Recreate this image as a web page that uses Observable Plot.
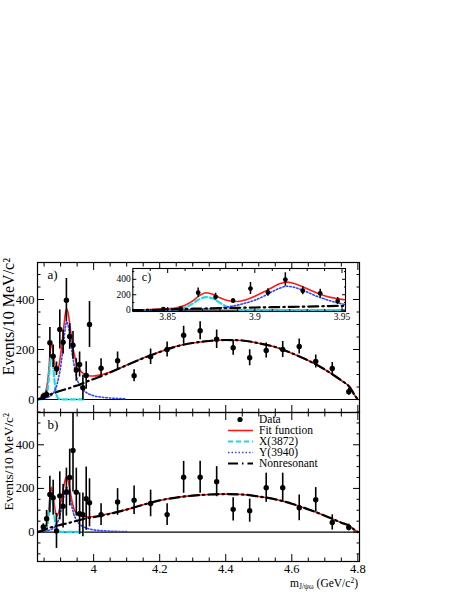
<!DOCTYPE html>
<html><head><meta charset="utf-8">
<script src="https://cdn.jsdelivr.net/npm/d3@7"></script>
<script src="https://cdn.jsdelivr.net/npm/@observablehq/plot@0.6"></script>
<style>
body{margin:0;background:#fff;}
#chart{position:relative;width:458px;height:592px;font-family:"Liberation Serif","Times New Roman",serif;color:#000;}
#chart > svg{position:absolute;overflow:visible;}
.leg{position:absolute;left:226px;top:413.5px;font-size:11.5px;}
.leg div{height:11px;line-height:11px;display:flex;align-items:center;white-space:nowrap;}
.leg svg{margin-right:5px;}
.xt{position:absolute;right:100px;top:575px;font-size:11.5px;line-height:12px;white-space:nowrap;}
.xt sub{font-size:7.5px;vertical-align:-2px;}
.xt sup{font-size:7.5px;vertical-align:4px;}
</style></head>
<body><div id="chart"></div>
<script>
// ---- data: bin centres (GeV/c^2) ----
const massBins = [3.8475,3.8575,3.8675,3.8775,3.8875,3.8975,3.9075,3.9175,3.9275,3.9375,3.9475,3.9575,3.9675,3.9775,3.9875,
  4.0225,4.0725,4.1225,4.1725,4.2225,4.2725,4.3225,4.3725,4.4225,4.4725,4.5225,4.5725,4.6225,4.6725,4.7225,4.7725];
// panel a) events and errors
const eventsA = [13,20,227,173,123,280,229,397,252,217,118,140,47,96,300,125,155,95,171,200,257,275,241,207,167,196,200,212,152,124,31];
const errorsA = [12,14,61,45,27,78,48,87,51,55,45,50,50,55,92,38,35,24,31,30,36,36,37,30,32,30,32,30,26,24,14];
// panel b) events and errors
const eventsB = [23,61,172,157,5,166,118,183,250,374,183,84,79,153,134,80,138,146,131,80,251,251,231,104,98,203,203,111,148,44,21];
const errorsB = [15,38,84,80,80,110,100,110,130,190,110,95,100,145,110,50,61,65,61,50,73,73,69,53,53,67,67,59,56,35,15];
// curve sample masses
const curveMass = [3.83,3.84,3.85,3.855,3.86,3.865,3.868,3.872,3.876,3.88,3.885,3.89,3.895,3.9,3.905,3.91,3.915,3.918,3.922,3.926,
  3.93,3.935,3.94,3.95,3.96,3.97,3.98,3.99,4.0,4.02,4.05,4.1,4.15,4.2,4.25,4.3,4.35,4.4,4.45,4.5,4.55,4.6,4.65,4.7,4.75,4.775,4.79,4.8];
// panel a) curves
const fitA = [2,8,20,32,65,130,185,226,205,160,122,112,135,180,235,295,348,363,350,318,278,228,188,140,115,103,97,94,94,98,110,138,166,190,213,226,234,238,236,225,210,185,156,120,76,50,18,0];
const x3872A = [0,1,3,10,35,95,140,170,150,95,35,10,3,1,1,0.5,0.5,0.5,0.5,0.5,0.5,0.5,0.5,0.5,0.5,0.5];
const y3940A = [2,3,5,6,8,11,13,16,22,30,45,65,95,130,180,240,292,310,300,272,235,185,145,82,52,36,26,20,15,10,6,3];
const nonresA = [0,4,10,13,16,19,20,22,24,26,28,31,33,35,37,39,41,42,44,45,47,49,52,56,61,66,72,77,82,92,108,137,165,190,212,226,234,238,236,225,210,185,156,120,76,50,18,0];
// panel b) curves
const fitB = [2,7,16,28,58,118,168,205,180,135,88,74,95,130,172,212,245,253,240,212,178,138,108,82,74,71,70,70,71,76,85,103,125,145,158,167,172,174,172,163,150,130,104,75,43,28,10,0];
const x3872B = [0,1,3,10,33,92,138,165,138,85,30,8,3,1,1,0.5,0.5,0.5,0.5,0.5,0.5,0.5,0.5,0.5,0.5,0.5];
const y3940B = [1,2,3,4,6,8,9,11,15,20,30,42,62,90,125,165,196,205,195,172,145,110,82,50,33,23,17,13,10,7,4,2];
const nonresB = [0,4,10,13,16,19,20,22,23,25,27,29,31,33,35,37,38,39,41,42,44,46,48,52,56,60,63,66,68,74,84,103,125,145,158,167,172,174,172,163,150,130,104,75,43,28,10,0];
// ticks
const xMajor = [4,4.2,4.4,4.6,4.8];
const xMinor = [3.85,3.9,3.95,4.05,4.1,4.15,4.25,4.3,4.35,4.45,4.5,4.55,4.65,4.7,4.75];
const yMajor = [0,200,400];
const yMinorA = [-50,50,100,150,250,300,350,450,500];
const yMinorB = [-100,-50,50,100,150,250,300,350,450,500];
const cxMajor = [3.85,3.9,3.95];
const cxMinor = [3.84,3.86,3.87,3.88,3.89,3.91,3.92,3.93,3.94];
const cyMajor = [0,200,400];
const cyMinor = [100,300,500];
// texts
const yTitle = "Events/10 MeV/c²";
const legendLabels = ["Data","Fit function","X(3872)","Y(3940)","Nonresonant"];

const S = {
  fit:{stroke:"#ff1a1a",strokeWidth:1.6},
  x:{stroke:"#19d9e6",strokeWidth:2.2,strokeDasharray:"5,3"},
  y:{stroke:"#3045ff",strokeWidth:1.6,strokeDasharray:"1.5,2"},
  nr:{stroke:"#000",strokeWidth:2.2,strokeDasharray:"10,4,1.5,4"}
};
const pointsOf = (v,e) => massBins.map((m,i)=>({m, v:v[i], e:e[i]}));
const curveOf = (vals) => vals.map((v,i)=>({m:curveMass[i], v}));

function inTicks(k, anchor, values, size){
  const o = {anchor, tickSize:size, tickFormat:()=> "", label:null, strokeWidth:1};
  if (anchor==="bottom") o.dy = -size;
  if (anchor==="top") o.dy = size;
  if (anchor==="left") o.dx = size;
  if (anchor==="right") o.dx = -size;
  return k==="x" ? Plot.axisX(values, o) : Plot.axisY(values, o);
}
function allTicks(xMaj, xMin, yMaj, yMin, big, small){
  return [
    inTicks("x","bottom",xMaj,big), inTicks("x","bottom",xMin,small),
    inTicks("x","top",xMaj,big), inTicks("x","top",xMin,small),
    inTicks("y","left",yMaj,big), inTicks("y","left",yMin,small),
    inTicks("y","right",yMaj,big), inTicks("y","right",yMin,small)
  ];
}
function curveMarks(fit, xc, yc, nr, maxM){
  const f = rows => maxM ? rows.filter(d=>d.m<=maxM) : rows;
  return [
    Plot.line(f(curveOf(fit)), {x:"m", y:"v", curve:"monotone-x", clip:true, ...S.fit}),
    Plot.line(f(curveOf(xc)), {x:"m", y:"v", curve:"monotone-x", clip:true, ...S.x}),
    Plot.line(f(curveOf(yc)), {x:"m", y:"v", curve:"monotone-x", clip:true, ...S.y}),
    Plot.line(f(curveOf(nr)), {x:"m", y:"v", curve:"monotone-x", clip:true, ...S.nr})
  ];
}
function dataMarks(pts, r, w){
  return [
    Plot.ruleX(pts, {x:"m", y1:d=>d.v-d.e, y2:d=>d.v+d.e, strokeWidth:w, clip:true}),
    Plot.dot(pts, {x:"m", y:"v", r, fill:"#000", clip:true})
  ];
}

const chart = document.getElementById("chart");
const baseStyle = {background:"transparent", overflow:"visible", fontFamily:"Liberation Serif, serif", fontSize:"12px"};
const xDomain = [3.83, 4.805];

function mainPanel({top, height, mb, yDomain, vals, errs, fit, xc, yc, nr, yMinor, label, showX}){
  const marks = [
    Plot.ruleY([0], {strokeWidth:1.2}),
    ...curveMarks(fit, xc, yc, nr),
    ...dataMarks(pointsOf(vals, errs), 2.7, 1.6),
    ...allTicks(xMajor, xMinor, yMajor, yMinor, 7, 3.5),
    Plot.axisY(yMajor, {anchor:"left", tickSize:0, tickPadding:3, label:null, fontSize:12.5, tickFormat:d=>String(d)}),
    Plot.frame({strokeWidth:1.2}),
    Plot.text([label], {frameAnchor:"top-left", dx:10, dy:7, lineAnchor:"top", textAnchor:"start", fontSize:13})
  ];
  if (showX) marks.push(Plot.axisX(xMajor, {anchor:"bottom", tickSize:0, tickPadding:3, label:null, fontSize:12.5, tickFormat:d=>String(+d.toFixed(2))}));
  const p = Plot.plot({
    width:458, height, marginTop:10, marginBottom:mb, marginLeft:37, marginRight:99,
    x:{domain:xDomain}, y:{domain:yDomain},
    style:{...baseStyle, left:"0px", top:top+"px"},
    marks
  });
  chart.appendChild(p);
}

mainPanel({top:252, height:170, mb:10, yDomain:[-52,548], vals:eventsA, errs:errorsA, fit:fitA, xc:x3872A, yc:y3940A, nr:nonresA,
  yMinor:yMinorA, label:"a)", showX:false});
mainPanel({top:402, height:190, mb:31, yDomain:[-135,548], vals:eventsB, errs:errorsB, fit:fitB, xc:x3872B, yc:y3940B, nr:nonresB,
  yMinor:yMinorB, label:"b)", showX:true});

// inset c)
const inset = Plot.plot({
  width:260, height:70, marginTop:10, marginBottom:17, marginLeft:32.3, marginRight:15,
  x:{domain:[3.83,3.952]}, y:{domain:[-17,540]},
  style:{...baseStyle, left:"100px", top:"258px", fontSize:"9px"},
  marks:[
    Plot.frame({fill:"#fff", stroke:null}),
    Plot.ruleY([0], {strokeWidth:1}),
    ...curveMarks(fitA, x3872A, y3940A, nonresA, 3.96),
    ...dataMarks(pointsOf(eventsA, errorsA).filter(d=>d.m<3.952), 2.4, 1.5),
    ...allTicks(cxMajor, cxMinor, cyMajor, cyMinor, 4, 2),
    Plot.axisX(cxMajor, {anchor:"bottom", tickSize:0, tickPadding:2, label:null, fontSize:9.5, tickFormat:d=>String(+d.toFixed(2))}),
    Plot.axisY(cyMajor, {anchor:"left", tickSize:0, tickPadding:2, label:null, fontSize:9.5, tickFormat:d=>String(d)}),
    Plot.frame({strokeWidth:1.1}),
    Plot.text(["c)"], {frameAnchor:"top-left", dx:9, dy:4, lineAnchor:"top", textAnchor:"start", fontSize:12})
  ]
});
chart.appendChild(inset);

// y titles: overlay SVG with rotated text (end of text at the top)
const svgNS = "http://www.w3.org/2000/svg";
const ov = document.createElementNS(svgNS, "svg");
ov.setAttribute("width", "458"); ov.setAttribute("height", "592");
ov.style.cssText = "position:absolute;left:0;top:0;overflow:visible;pointer-events:none;";
[[258, 14.1, 16], [413, 12.9, 13.3]].forEach(([y, x, fs]) => {
  const t = document.createElementNS(svgNS, "text");
  t.setAttribute("x", x); t.setAttribute("y", y);
  t.setAttribute("font-size", fs);
  t.setAttribute("font-family", "Liberation Serif, serif");
  t.setAttribute("text-anchor", "end");
  t.setAttribute("transform", `rotate(-90,${x},${y})`);
  t.textContent = yTitle;
  ov.appendChild(t);
});
chart.appendChild(ov);

// legend
const leg = document.createElement("div");
leg.className = "leg";
const swatch = [
  '<svg width="28" height="11"><circle cx="14" cy="5.5" r="2.6" fill="#000"/></svg>',
  `<svg width="28" height="11"><line x1="2" x2="27" y1="5.5" y2="5.5" stroke="${S.fit.stroke}" stroke-width="${S.fit.strokeWidth}"/></svg>`,
  `<svg width="28" height="11"><line x1="2" x2="27" y1="5.5" y2="5.5" stroke="${S.x.stroke}" stroke-width="${S.x.strokeWidth}" stroke-dasharray="${S.x.strokeDasharray}"/></svg>`,
  `<svg width="28" height="11"><line x1="2" x2="27" y1="5.5" y2="5.5" stroke="${S.y.stroke}" stroke-width="${S.y.strokeWidth}" stroke-dasharray="${S.y.strokeDasharray}"/></svg>`,
  `<svg width="28" height="11"><line x1="2" x2="27" y1="5.5" y2="5.5" stroke="#000" stroke-width="2.2" stroke-dasharray="10,4,1.5,4"/></svg>`
];
leg.innerHTML = legendLabels.map((t,i)=>`<div>${swatch[i]}<span>${t}</span></div>`).join("");
chart.appendChild(leg);

// x title
const xt = document.createElement("div");
xt.className = "xt";
xt.innerHTML = "m<sub>J/ψω</sub> (GeV/c<sup>2</sup>)";
chart.appendChild(xt);
</script></body></html>
